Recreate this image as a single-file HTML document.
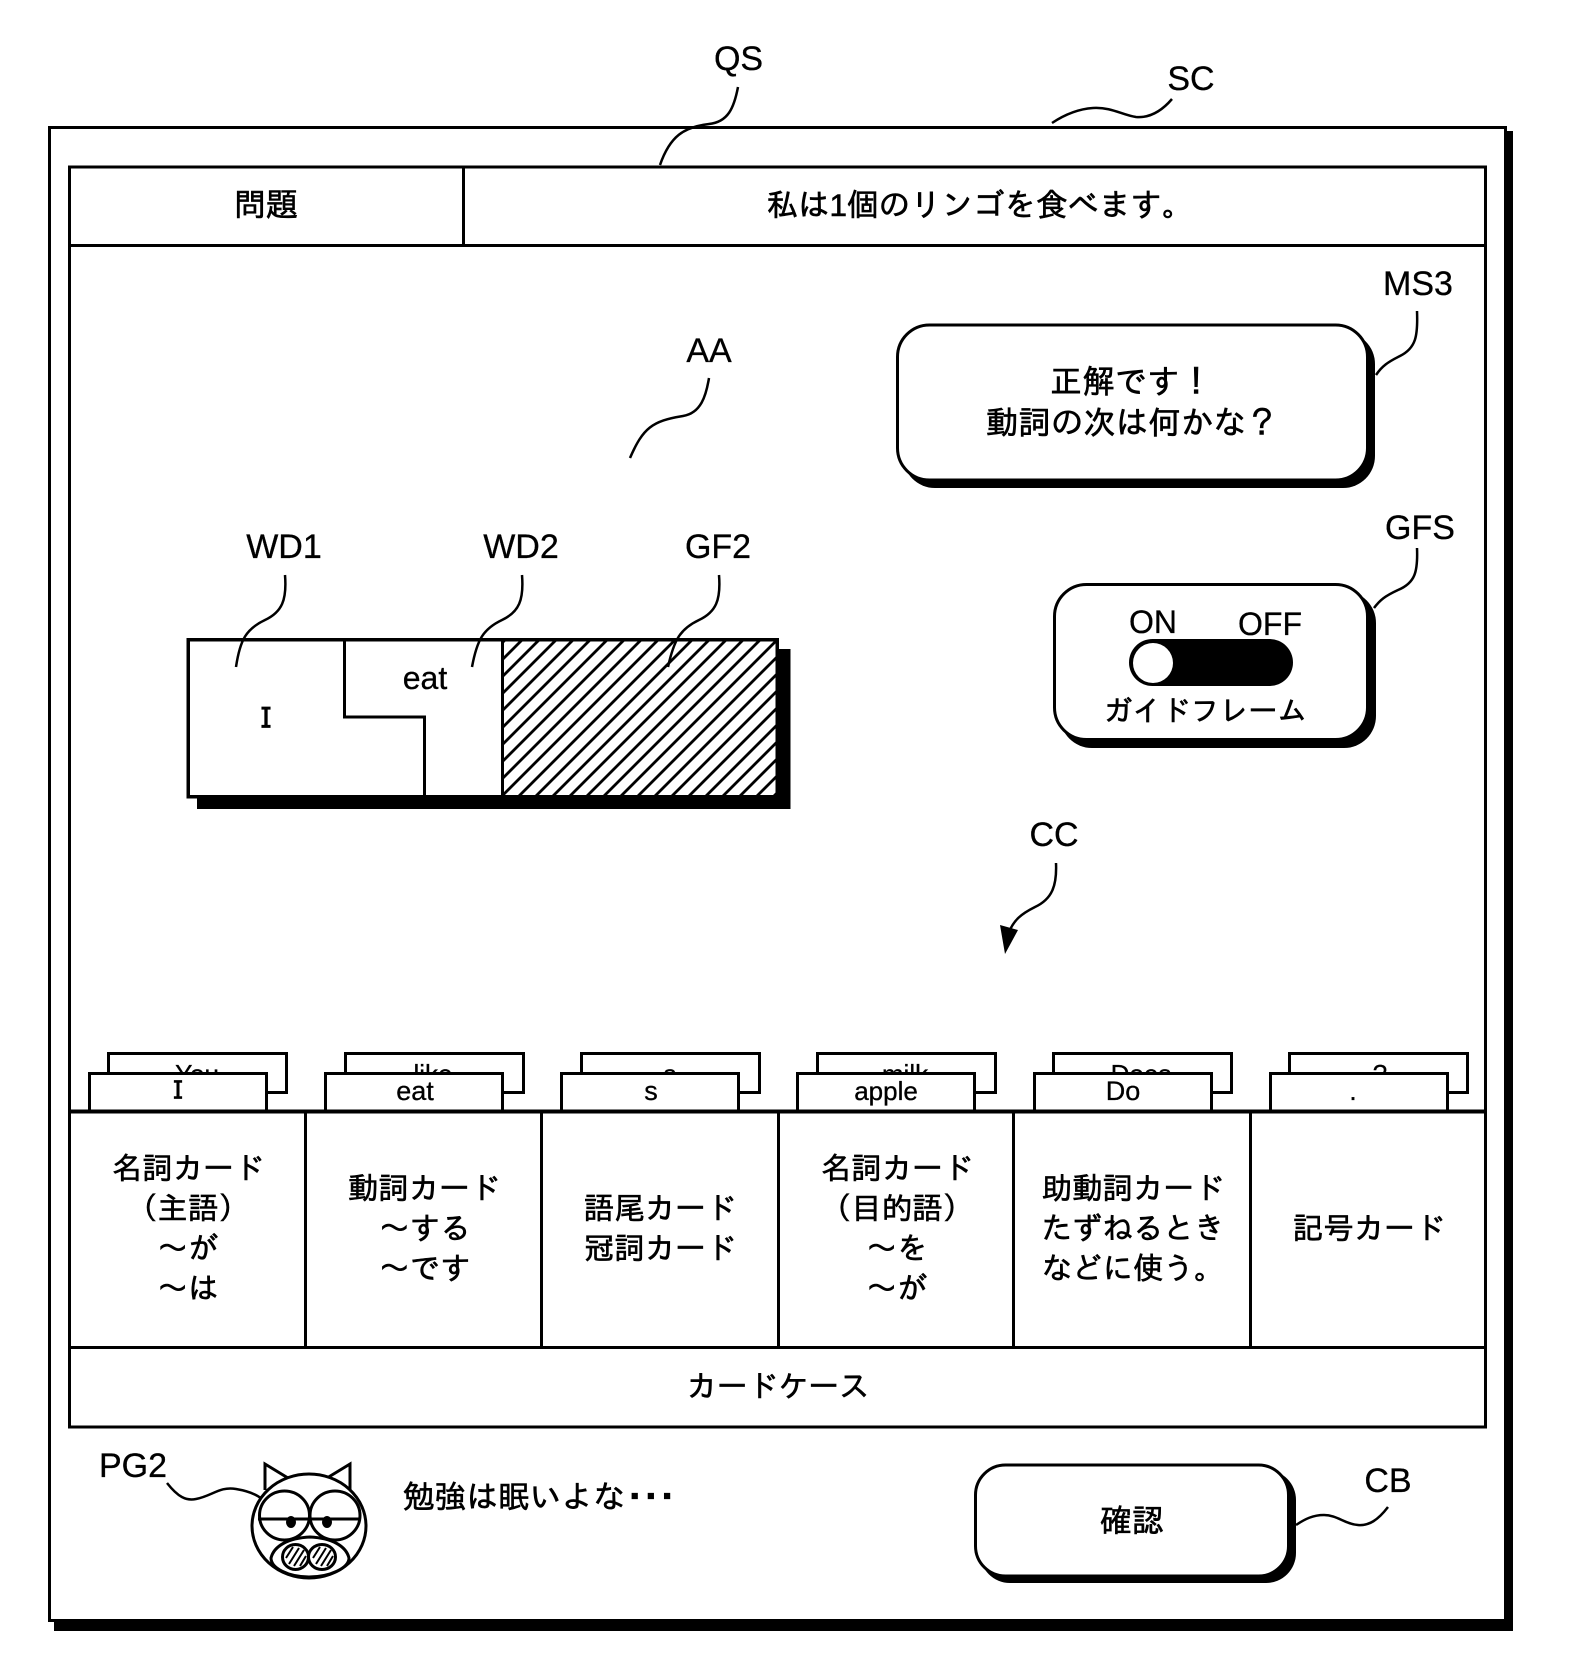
<!DOCTYPE html>
<html><head><meta charset="utf-8"><style>
html,body{margin:0;padding:0;background:#fff;width:1571px;height:1680px;overflow:hidden}
svg{display:block}
text{fill:#000;text-anchor:middle}
.j{font-family:"Liberation Sans","IPAGothic","Noto Sans CJK JP",sans-serif;font-size:30.5px;stroke:#000;stroke-width:.6}
.l{font-family:"Liberation Sans",sans-serif;font-size:34px;stroke:#000;stroke-width:.3}
.c{font-family:"Liberation Sans",sans-serif;font-size:26px;stroke:#000;stroke-width:.3}
.m{font-family:"IPAGothic","Liberation Mono",monospace;font-size:29px;stroke:#000;stroke-width:.8}
.n{fill:none;stroke:#000;stroke-width:2.5}
.b{fill:#fff;stroke:#000;stroke-width:3}
</style></head><body>
<svg width="1571" height="1680" viewBox="0 0 1571 1680" xmlns="http://www.w3.org/2000/svg">
<defs>
<pattern id="h" width="17" height="17" patternUnits="userSpaceOnUse">
<path d="M7 -1L-1 7M18 5L5 18" stroke="#000" stroke-width="2.8" fill="none"/>
</pattern>
<clipPath id="cb1"><rect x="100" y="1052" width="1380" height="20"/></clipPath>
</defs>

<!-- outer frame -->
<rect x="54" y="131" width="1459" height="1500" fill="#000"/>
<rect x="49.5" y="127.5" width="1456" height="1493" fill="#fff" stroke="#000" stroke-width="3" shape-rendering="crispEdges"/>

<!-- main panel -->
<rect x="69.5" y="167" width="1416" height="1260" fill="#fff" stroke="#000" stroke-width="3" shape-rendering="crispEdges"/>
<g stroke="#000" stroke-width="3" shape-rendering="crispEdges">
<line x1="69" y1="245.5" x2="1486" y2="245.5"/>
<line x1="463.5" y1="166" x2="463.5" y2="246"/>
</g>
<text class="j" x="266" y="216" style="font-size:32px">問題</text>
<text class="j" x="980" y="216" style="font-size:31.5px">私は1個のリンゴを食べます。</text>

<!-- labels -->
<text class="l" x="738.5" y="70">QS</text>
<text class="l" x="1191" y="90">SC</text>
<text class="l" x="709" y="362">AA</text>
<text class="l" x="1418" y="295">MS3</text>
<text class="l" x="1420" y="539">GFS</text>
<text class="l" x="284" y="558">WD1</text>
<text class="l" x="521" y="558">WD2</text>
<text class="l" x="718" y="558">GF2</text>
<text class="l" x="1054" y="846">CC</text>

<!-- message bubble -->
<rect x="903" y="332" width="472" height="156" rx="32" fill="#000"/>
<rect x="897.5" y="325" width="470" height="155" rx="32" class="b"/>
<text class="j" x="1131" y="393" style="font-size:32.5px">正解です！</text>
<text class="j" x="1132" y="434" style="font-size:32.5px">動詞の次は何かな？</text>

<!-- toggle -->
<rect x="1060" y="591" width="316" height="157" rx="32" fill="#000"/>
<rect x="1054.5" y="584.5" width="313" height="155" rx="32" class="b"/>
<text class="l" x="1153" y="633" style="font-size:32px">ON</text>
<text class="l" x="1270" y="635" style="font-size:32px">OFF</text>
<rect x="1129" y="639" width="164" height="47" rx="23.5" fill="#000"/>
<circle cx="1153" cy="663" r="20" fill="#fff"/>
<text class="j" x="1205" y="721" style="font-size:29px">ガイドフレーム</text>

<!-- word frame -->
<rect x="197" y="649" width="593.5" height="160" fill="#000"/>
<rect x="188" y="639.5" width="589" height="157" fill="#fff" stroke="#000" stroke-width="3.5" shape-rendering="crispEdges"/>
<rect x="503" y="641" width="273" height="154" fill="url(#h)"/>
<path d="M344.5 640V717H424.5V796M502.5 640V796" fill="none" stroke="#000" stroke-width="3" shape-rendering="crispEdges"/>
<text class="m" x="266" y="729">I</text>
<text class="c" x="425" y="689" style="font-size:32px">eat</text>

<!-- leaders -->
<path class="n" d="M738 87C734 108 728 122 709 124C684 127 670 136 660 165"/>
<path class="n" d="M1172 99C1160 113 1148 118 1136 117C1122 115 1112 107 1093 108C1078 109 1064 115 1052 123"/>
<path class="n" d="M709 378C706 396 701 413 683 416C652 421 643 428 630 458"/>
<path class="n" d="M1417 311C1418 336 1416 348 1400 356C1388 362 1382 366 1376 375"/>
<path class="n" d="M1417 548C1418 572 1415 583 1398 590C1385 596 1380 600 1374 608"/>
<path class="n" d="M285 575C287 600 282 612 265 620C246 629 240 640 236 667"/>
<path class="n" d="M522 575C524 600 519 612 502 620C483 629 477 640 472 667"/>
<path class="n" d="M719 575C721 600 716 612 699 620C680 629 674 640 668 667"/>
<path class="n" d="M1056 863C1057 886 1052 899 1035 907C1021 914 1014 920 1009 932"/>
<path d="M1000 925L1018 930L1005 954Z" fill="#000"/>

<!-- back cards -->
<g shape-rendering="crispEdges" fill="#fff" stroke="#000" stroke-width="3">
<rect x="108.5" y="1053.5" width="178" height="39"/>
<rect x="345.5" y="1053.5" width="178" height="39"/>
<rect x="581.5" y="1053.5" width="178" height="39"/>
<rect x="817.5" y="1053.5" width="178" height="39"/>
<rect x="1053.5" y="1053.5" width="178" height="39"/>
<rect x="1289.5" y="1053.5" width="178" height="39"/>
</g>
<g clip-path="url(#cb1)">
<text class="c" x="197" y="1083">You</text>
<text class="c" x="433" y="1083">like</text>
<text class="c" x="670" y="1083">a</text>
<text class="c" x="905" y="1083">milk</text>
<text class="c" x="1141" y="1083">Does</text>
<text class="c" x="1380" y="1083">?</text>
</g>
<!-- front cards -->
<g shape-rendering="crispEdges" fill="#fff" stroke="#000" stroke-width="3">
<rect x="89.5" y="1073.5" width="177" height="38"/>
<rect x="325.5" y="1073.5" width="177" height="38"/>
<rect x="561.5" y="1073.5" width="177" height="38"/>
<rect x="797.5" y="1073.5" width="177" height="38"/>
<rect x="1034.5" y="1073.5" width="177" height="38"/>
<rect x="1270.5" y="1073.5" width="177" height="38"/>
</g>
<text class="m" x="178" y="1100" style="font-size:26px">I</text>
<text class="c" x="415" y="1100" style="font-size:27px">eat</text>
<text class="c" x="651" y="1100" style="font-size:27px">s</text>
<text class="c" x="886" y="1100">apple</text>
<text class="c" x="1123" y="1100" style="font-size:27px">Do</text>
<text class="c" x="1353" y="1100" style="font-size:27px">.</text>

<!-- tray -->
<g stroke="#000" stroke-width="3" shape-rendering="crispEdges">
<line x1="69" y1="1111.5" x2="1486" y2="1111.5" stroke-width="4"/>
<line x1="69" y1="1347.5" x2="1486" y2="1347.5"/>
<line x1="305.5" y1="1111" x2="305.5" y2="1348"/>
<line x1="541.5" y1="1111" x2="541.5" y2="1348"/>
<line x1="778.5" y1="1111" x2="778.5" y2="1348"/>
<line x1="1013.5" y1="1111" x2="1013.5" y2="1348"/>
<line x1="1250.5" y1="1111" x2="1250.5" y2="1348"/>
</g>
<text class="j"><tspan x="188" y="1179">名詞カード</tspan><tspan x="188" y="1219">（主語）</tspan><tspan x="188" y="1259">～が</tspan><tspan x="188" y="1299">～は</tspan></text>
<text class="j"><tspan x="424" y="1199">動詞カード</tspan><tspan x="425" y="1239">～する</tspan><tspan x="425" y="1279">～です</tspan></text>
<text class="j"><tspan x="660" y="1219">語尾カード</tspan><tspan x="660" y="1259">冠詞カード</tspan></text>
<text class="j"><tspan x="897" y="1179">名詞カード</tspan><tspan x="897" y="1219">（目的語）</tspan><tspan x="897" y="1259">～を</tspan><tspan x="897" y="1299">～が</tspan></text>
<text class="j"><tspan x="1133" y="1199">助動詞カード</tspan><tspan x="1133" y="1239">たずねるとき</tspan><tspan x="1133" y="1279">などに使う。</tspan></text>
<text class="j" x="1369" y="1239">記号カード</text>
<text class="j" x="778" y="1397">カードケース</text>

<!-- character -->
<text class="l" x="133" y="1477">PG2</text>
<path class="n" d="M167 1483C178 1497 186 1501 196 1499C212 1496 220 1486 236 1489C248 1491 256 1494 262 1499"/>
<path d="M265 1490V1464L288 1478M350 1490V1464L327 1478" fill="#fff" stroke="#000" stroke-width="3"/>
<ellipse cx="309" cy="1526" rx="57" ry="52" fill="#fff" stroke="#000" stroke-width="3"/>
<ellipse cx="284.5" cy="1515.5" rx="25" ry="24.5" fill="#fff" stroke="#000" stroke-width="3"/>
<ellipse cx="335" cy="1515.5" rx="25" ry="24.5" fill="#fff" stroke="#000" stroke-width="3"/>
<line x1="258" y1="1519" x2="361" y2="1519" stroke="#000" stroke-width="3"/>
<ellipse cx="291" cy="1522" rx="5" ry="6" fill="#000"/>
<ellipse cx="327" cy="1522" rx="5" ry="6" fill="#000"/>
<path d="M271 1558C274 1546 288 1538 310 1537C332 1538 346 1546 349 1558C349 1568 330 1577 309 1577C288 1577 271 1568 271 1558Z" fill="#fff" stroke="#000" stroke-width="3"/>
<ellipse cx="295.5" cy="1557" rx="13" ry="12.5" fill="#fff"/>
<ellipse cx="322" cy="1557" rx="13.5" ry="12.5" fill="#fff"/>
<path d="M289 1564L299 1548M294 1566L304 1550M286 1558L293 1547M300 1566L306 1556M316 1564L326 1548M321 1566L331 1550M313 1558L320 1547M327 1566L333 1556" stroke="#000" stroke-width="2" fill="none"/>
<ellipse cx="295.5" cy="1557" rx="13" ry="12.5" fill="none" stroke="#000" stroke-width="3"/>
<ellipse cx="322" cy="1557" rx="13.5" ry="12.5" fill="none" stroke="#000" stroke-width="3"/>
<text class="j" x="403" y="1508" style="font-size:31.7px;text-anchor:start">勉強は眠いよな<tspan dx="-6" letter-spacing="-15.5" stroke-width="2">・・・</tspan></text>

<!-- confirm -->
<rect x="980" y="1470" width="316" height="113" rx="30" fill="#000"/>
<rect x="975.5" y="1465" width="313" height="111" rx="30" class="b"/>
<text class="j" x="1132" y="1532" style="font-size:32px">確認</text>
<text class="l" x="1388" y="1492">CB</text>
<path class="n" d="M1388 1507C1378 1520 1369 1526 1358 1525C1345 1524 1337 1515 1324 1515C1313 1515 1305 1519 1296 1525"/>
</svg>
</body></html>
